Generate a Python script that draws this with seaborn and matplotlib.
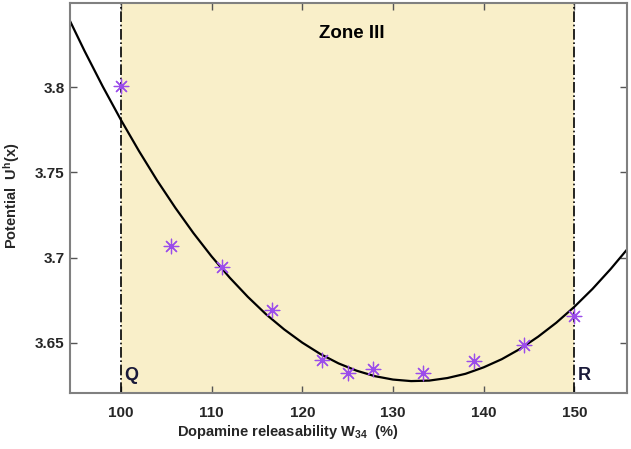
import numpy as np
import pandas as pd
import matplotlib
matplotlib.use("Agg")
import matplotlib.pyplot as plt
import seaborn as sns

# simulated points (asterisks)
w34 = [100.0, 105.56, 111.11, 116.67, 122.22, 125.0, 127.78, 133.33, 138.89, 144.44, 150.0]
pot = [3.801, 3.707, 3.6945, 3.669, 3.6398, 3.632, 3.6347, 3.6324, 3.6392, 3.6486, 3.6657]

# fitted curve
curve_x = [94, 96, 98, 100, 102, 104, 106, 108, 110, 112, 114, 116, 118, 120, 122, 124,
           126, 128, 130, 132, 134, 136, 138, 140, 142, 144, 146, 148, 150, 152, 154, 156]
curve_y = [3.8434, 3.8214, 3.8006, 3.7810, 3.7626, 3.7453, 3.7293, 3.7144, 3.7007,
           3.6882, 3.6769, 3.6667, 3.6578, 3.6500, 3.6433, 3.6378, 3.6335, 3.6303,
           3.6283, 3.6274, 3.6277, 3.6292, 3.6317, 3.6355, 3.6403, 3.6463, 3.6535,
           3.6617, 3.6711, 3.6816, 3.6933, 3.7060]

zone_lo, zone_hi = 100, 150
xticks = [100, 110, 120, 130, 140, 150]
yticks = [3.65, 3.7, 3.75, 3.8]
ytick_labels = ["3.65", "3.7", "3.75", "3.8"]

sns.set_style("ticks")
plt.rcParams["font.family"] = ["Liberation Sans", "DejaVu Sans"]
plt.rcParams["font.weight"] = "bold"
plt.rcParams["mathtext.fontset"] = "custom"
plt.rcParams["mathtext.rm"] = "Liberation Sans:bold"
plt.rcParams["mathtext.bf"] = "Liberation Sans:bold"
plt.rcParams["mathtext.it"] = "Liberation Sans:bold"

fig = plt.figure(figsize=(6.31, 4.49), dpi=100)
ax = fig.add_axes([0.111, 0.1247, 0.8827, 0.8686])

ax.axvspan(zone_lo, zone_hi, color="#F9EFC9", lw=0, zorder=0)
ax.axvline(zone_lo, color="black", ls="-.", lw=1.2, zorder=1)
ax.axvline(zone_hi, color="black", ls="-.", lw=1.2, zorder=1)

df_curve = pd.DataFrame({"x": curve_x, "y": curve_y})
sns.lineplot(data=df_curve, x="x", y="y", color="black", lw=1.6, ax=ax, zorder=2)

df_pts = pd.DataFrame({"x": w34, "y": pot})
sns.scatterplot(data=df_pts, x="x", y="y", marker=(8, 2, 0), s=110,
                color="#9B4DEA", linewidth=0.9, ax=ax, zorder=3)

ax.set_xlim(94.4, 155.8)
ax.set_ylim(3.6204, 3.8496)
ax.set_xticks(xticks)
ax.set_xticklabels([str(t) for t in xticks])
ax.set_yticks(yticks)
ax.set_yticklabels(ytick_labels)
ax.tick_params(direction="in", length=5, width=1, color="#555555",
               top=True, right=True, labelsize=11)
ax.tick_params(axis="x", pad=9)
ax.tick_params(axis="y", pad=4)
for lab in ax.get_xticklabels() + ax.get_yticklabels():
    lab.set_fontweight("bold")
for sp in ax.spines.values():
    sp.set_color("#808080")
    sp.set_linewidth(1.5)

ax.set_xlabel(r"Dopamine releasability W$_{34}$  (%)", fontsize=10.5, fontweight="bold")
ax.set_ylabel(r"Potential  U$^{h}$(x)", fontsize=10.5, fontweight="bold")
ax.xaxis.set_label_coords(0.391, -0.078)
ax.yaxis.set_label_coords(-0.086, 0.505)

ax.text(125.5, 3.8314, "Zone III", ha="center", va="center", fontsize=13.5, fontweight="bold", color="black")
ax.text(100.4, 3.6306, "Q", ha="left", va="center", fontsize=13, fontweight="bold", color="#1a1a3a")
ax.text(150.4, 3.6306, "R", ha="left", va="center", fontsize=13, fontweight="bold", color="#1a1a3a")

fig.savefig("out.png", dpi=100)
